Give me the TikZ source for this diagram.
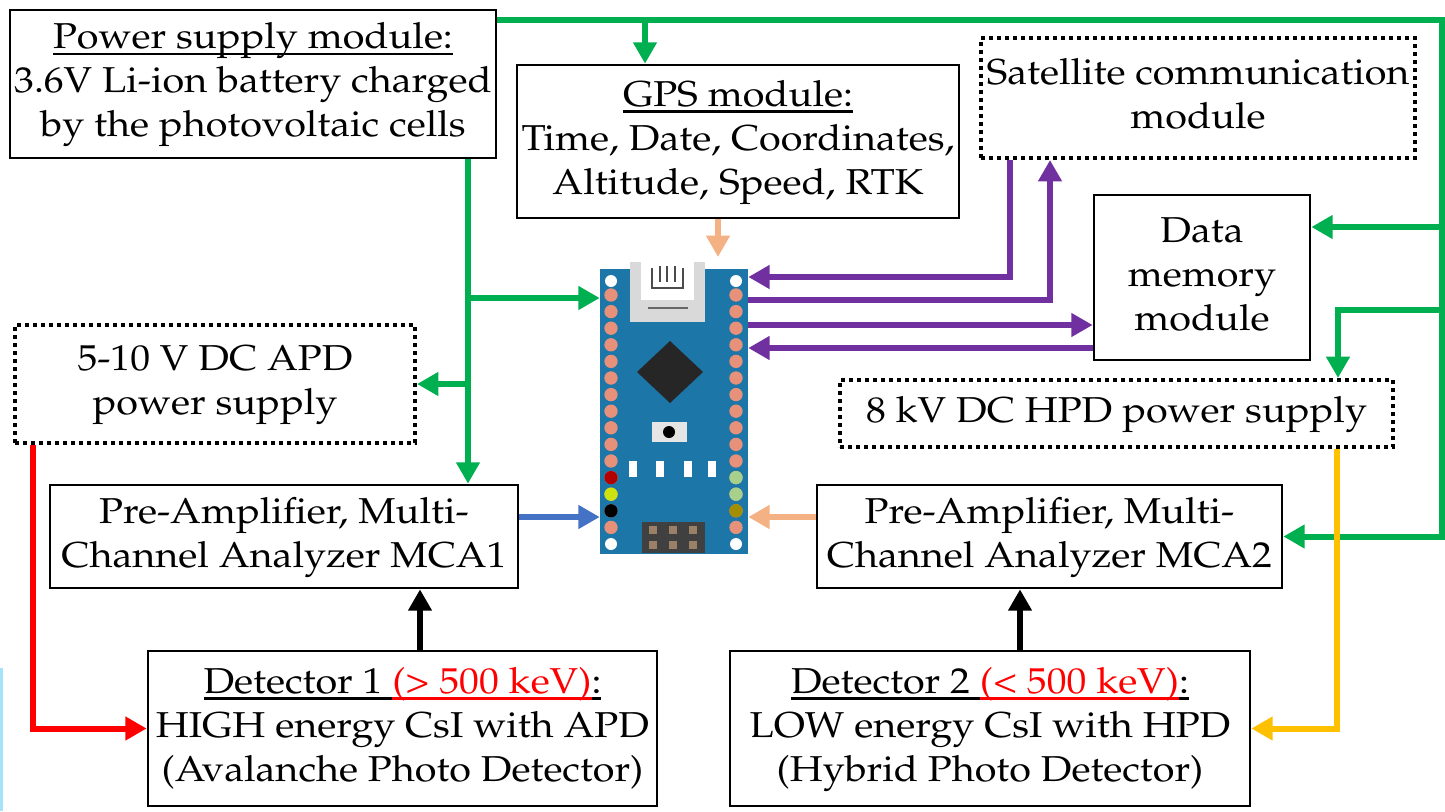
\documentclass[tikz,border=0pt]{standalone}
\usepackage[T1]{fontenc}
\renewcommand{\rmdefault}{ppl}
\usepackage{graphicx}
\usetikzlibrary{arrows.meta}

\definecolor{pgreen}{RGB}{0,176,80}
\definecolor{ppurple}{RGB}{112,48,160}
\definecolor{ppeach}{RGB}{244,177,131}
\definecolor{pblue}{RGB}{68,114,196}
\definecolor{pyellow}{RGB}{255,192,0}
\definecolor{nanoblue}{RGB}{28,118,168}
\definecolor{pinred}{RGB}{232,145,122}
\definecolor{pingreen}{RGB}{168,208,141}

\newsavebox\ttlbox
\newcommand{\titleline}[1]{\sbox\ttlbox{#1}\rlap{\usebox\ttlbox}\rule[-5pt]{\wd\ttlbox}{2pt}}
\newcommand{\wide}[1]{\scalebox{1.1}[1]{\begin{tabular}{@{}c@{}}#1\end{tabular}}}

\tikzset{
  box/.style={draw, line width=2pt, inner sep=0pt, align=center, font=\fontsize{27}{33}\selectfont},
  dotbox/.style={box, line width=3pt, dash pattern=on 3pt off 3pt},
  board/.style={fill=nanoblue, inner sep=0pt, minimum width=111pt, minimum height=213.75pt},
  wire/.style={line width=4.5pt, -{Triangle[length=16pt,width=17pt]}},
}

\begin{document}
\begin{tikzpicture}[x=0.75pt,y=0.75pt,yscale=-1,xscale=1]
\useasboundingbox (0,0) rectangle (1445,811);

%Modules
\node[box, minimum width=364.5pt, minimum height=111pt] (power) at (253,84) {\wide{\titleline{Power supply module:}\\3.6V Li-ion battery charged\\by the photovoltaic cells}};
\node[box, minimum width=331.5pt, minimum height=114.75pt] (gps) at (738,141.5) {\wide{\titleline{GPS module:}\\Time, Date, Coordinates,\\Altitude, Speed, RTK}};
\node[dotbox, minimum width=325.5pt, minimum height=90pt] (sat) at (1198,98) {\wide{Satellite communication\\module}};
\node[box, minimum width=162pt, minimum height=123.75pt] (data) at (1202,277.5) {\wide{Data\\memory\\module}};
\node[dotbox, minimum width=300pt, minimum height=88.5pt] (apd) at (215,384) {\wide{5-10 V DC APD\\power supply}};
\node[dotbox, minimum width=414.75pt, minimum height=50.25pt] (hpd) at (1116.5,413.5) {\wide{8 kV DC HPD power supply}};
\node[box, minimum width=351pt, minimum height=77.25pt] (mca1) at (284,536.5) {\wide{Pre-Amplifier, Multi-\\Channel Analyzer MCA1}};
\node[box, minimum width=348.75pt, minimum height=77.25pt] (mca2) at (1049.5,536.5) {\wide{Pre-Amplifier, Multi-\\Channel Analyzer MCA2}};
\node[box, minimum width=381.75pt, minimum height=116.25pt] (det1) at (402.5,728.5) {\wide{\titleline{Detector 1 }\textcolor{red}{\titleline{(\textgreater{} 500 keV)}}\titleline{:}\\HIGH energy CsI with APD\\(Avalanche Photo Detector)}};
\node[box, minimum width=390pt, minimum height=116.25pt] (det2) at (990,728.5) {\wide{\titleline{Detector 2 }\textcolor{red}{\titleline{(\textless{} 500 keV)}}\titleline{:}\\LOW energy CsI with HPD\\(Hybrid Photo Detector)}};

%Arduino Nano board
\node[board] (nano) at (674,411) {};
\fill[gray!30] (630,262) rectangle (705,322);
\fill[white] (641,262) rectangle (694,300);
\draw[black!70, line width=1.2pt] (652,268) -- (652,288) -- (683,288) -- (683,268);
\draw[black!70, line width=1.2pt] (660,266) -- (660,282) (667,266) -- (667,282) (675,266) -- (675,282);
\draw[black!60, line width=1pt] (648,308) -- (688,308);
\fill[black!85] (670,341) -- (703,372) -- (670,403) -- (637,372) -- cycle;
\fill[gray!20] (652,422) rectangle (687,442);
\fill[black] (669,432) circle[radius=4.5pt];
\foreach \x in {633,660,688,712} \fill[white] (\x-4,461) rectangle (\x+4,477);
\fill[black!75] (642,522) rectangle (705,553);
\foreach \x in {653,673,693} \foreach \y in {530,545} \fill[brown!40!gray] (\x-4,\y-4) rectangle (\x+4,\y+4);
\foreach \x in {611,736} \foreach \y in {281,544} \fill[white] (\x,\y) circle[radius=4.5pt];
\foreach \i in {0,...,14} {
  \fill[pinred] (611,295+16.6*\i) circle[radius=5pt];
  \fill[pinred] (736,295+16.6*\i) circle[radius=5pt];
}
\fill[red!70!black] (611,477.6) circle[radius=5pt];
\fill[yellow!80!green] (611,494.2) circle[radius=5pt];
\fill[black] (611,510.8) circle[radius=5pt];
\fill[pingreen] (736,477.6) circle[radius=5pt];
\fill[pingreen] (736,494.2) circle[radius=5pt];
\fill[olive!80!orange] (736,510.8) circle[radius=5pt];

%Junctions
\coordinate (railT) at (1442,20);
\coordinate (gpsIn) at (645,20);
\coordinate (trunk) at (468,0);
\coordinate (nanoIn) at (0,298);
\coordinate (dataIn) at (0,227);
\coordinate (hpdK) at (1338,310);
\coordinate (satA) at (1010,277);
\coordinate (satB) at (1050,300);
\coordinate (dA) at (0,325);
\coordinate (dB) at (0,348);
\coordinate (gpsOut) at (718,257);
\coordinate (sig) at (0,517);
\coordinate (k1) at (420,0);
\coordinate (k2) at (1020,0);
\coordinate (r1) at (33,0);
\coordinate (y1) at (1337,0);

%Power lines
\draw[wire,pgreen] (power.east |- railT) -- (railT) -- (railT |- mca2.east) -- (mca2.east);
\draw[wire,pgreen] (gpsIn) -- (gpsIn |- gps.north);
\draw[wire,pgreen] (railT |- dataIn) -- (data.east |- dataIn);
\draw[wire,pgreen] (railT |- hpdK) -- (hpdK) -- (hpdK |- hpd.north);
\draw[wire,pgreen] (power.south -| trunk) -- (mca1.north -| trunk);
\draw[wire,pgreen] (trunk |- nanoIn) -- (nano.west |- nanoIn);
\draw[wire,pgreen] (trunk |- apd.east) -- (apd.east);

%Data lines
\draw[wire,ppurple] (sat.south -| satA) -- (satA) -- (nano.east |- satA);
\draw[wire,ppurple] (nano.east |- satB) -- (satB) -- (satB |- sat.south);
\draw[wire,ppurple] (nano.east |- dA) -- (data.west |- dA);
\draw[wire,ppurple] (data.west |- dB) -- (nano.east |- dB);
\draw[wire,ppeach] (gps.south -| gpsOut) -- (gpsOut);
\draw[wire,ppeach] (mca2.west |- sig) -- (nano.east |- sig);
\draw[wire,pblue] (mca1.east |- sig) -- (nano.west |- sig);

%Detector lines
\draw[wire] (det1.north -| k1) -- (k1 |- mca1.south);
\draw[wire] (det2.north -| k2) -- (k2 |- mca2.south);
\draw[wire,red] (apd.south -| r1) -- (r1 |- det1.west) -- (det1.west);
\draw[wire,pyellow] (hpd.south -| y1) -- (y1 |- det2.east) -- (det2.east);

%Left edge stroke
\draw[cyan!35, line width=2.5pt] (1,811) -- (1,668);

\end{tikzpicture}
\end{document}
